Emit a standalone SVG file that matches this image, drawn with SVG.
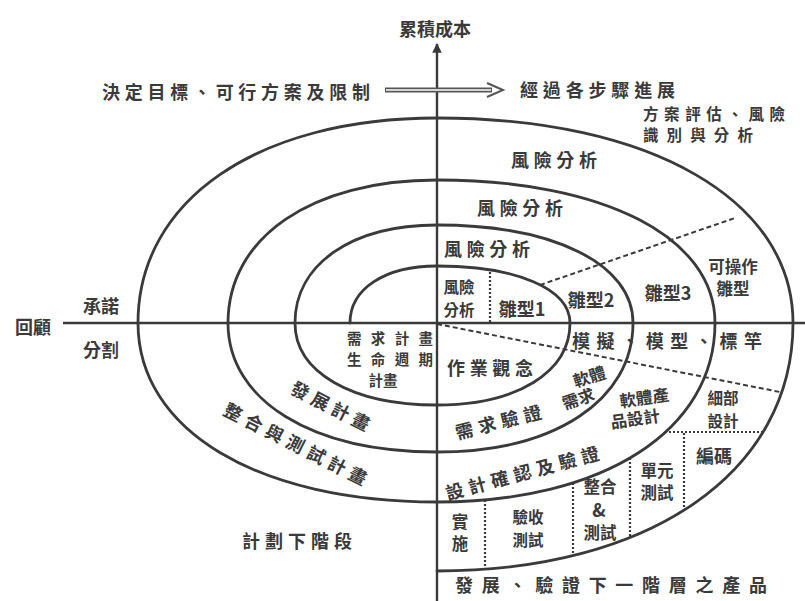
<svg xmlns="http://www.w3.org/2000/svg" width="805" height="601" viewBox="0 0 805 601">
<defs>
<style>
.t{font-family:"Noto Sans CJK TC","Noto Sans CJK SC",sans-serif;font-weight:700;font-size:18px;fill:#3a3a3a;text-anchor:middle;dominant-baseline:central}
.m{font-size:16.5px}
.n{font-size:15.5px}
.q{font-size:14.5px}
.s{text-anchor:start}
.ln{fill:none;stroke:#3a3a3a;stroke-width:2.8;stroke-linecap:round}
.ax{fill:none;stroke:#3a3a3a;stroke-width:2.4}
.da{fill:none;stroke:#3a3a3a;stroke-width:2;stroke-dasharray:5 3}
.do{fill:none;stroke:#3a3a3a;stroke-width:2.2;stroke-dasharray:2 2}
</style>
<marker id="ah" viewBox="0 0 10 10" refX="9" refY="5" markerWidth="4" markerHeight="5" orient="auto" markerUnits="strokeWidth">
<path d="M0,0 L10,5 L0,10 z" fill="#3a3a3a"/>
</marker>
</defs>
<rect width="805" height="601" fill="#fff"/>
<g id="connectors">
<line class="ax" x1="437" y1="601" x2="437" y2="44" marker-end="url(#ah)"/>
<line class="ax" x1="63" y1="323" x2="805" y2="323"/>
<path class="ln" d="M350,323 C350,288.8 384.8,266 437,266 C516.8,266 570,288.8 570,323 C570,372.2 516.8,405 437,405 C351.8,405 295,372.2 295,323 C295,264.2 351.8,225 437,225 C554.6,225 633,264.2 633,323 C633,400.4 554.6,452 437,452 C311.6,452 228,400.4 228,323 C228,237.2 311.6,180 437,180 C603.8,180 715,237.2 715,323 C715,430.4 603.8,502 437,502 C257.6,502 138,430.4 138,323 C138,200 257.6,118 437,118 C650.6,118 793,200 793,323 C793,471.8 650.6,571 437,571"/>
<line class="do" x1="490" y1="272" x2="490" y2="322"/>
<line class="da" x1="540" y1="285" x2="735" y2="218"/>
<line class="da" x1="437" y1="324" x2="780" y2="392"/>
<line class="do" x1="665" y1="432" x2="763" y2="432"/>
<line class="do" x1="684" y1="433" x2="684" y2="509"/>
<line class="do" x1="630" y1="458" x2="630" y2="537"/>
<line class="do" x1="573" y1="483" x2="573" y2="555"/>
<line class="do" x1="485" y1="500" x2="485" y2="569"/>
<g id="flow-arrow">
<line x1="385" y1="90" x2="492" y2="90" stroke="#555" stroke-width="5"/>
<line x1="386" y1="90" x2="491" y2="90" stroke="#fff" stroke-width="1.4"/>
<path d="M487,83 L503,90 L487,97" fill="none" stroke="#555" stroke-width="2"/>
</g>
</g>
<g id="axis-labels">
<text class="t" x="435" y="28">累積成本</text>
<text class="t s" x="102" y="91" textLength="268" lengthAdjust="spacing">決定目標、可行方案及限制</text>
<text class="t s" x="520" y="89" textLength="155" lengthAdjust="spacing">經過各步驟進展</text>
<text class="t" x="33" y="326">回顧</text>
<text class="t" x="101" y="305">承諾</text>
<text class="t" x="101" y="349">分割</text>
</g>
<g id="quadrant-evaluate">
<text class="t s n" x="643" y="113" textLength="142" lengthAdjust="spacing">方案評估、風險</text>
<text class="t s n" x="643" y="134" textLength="110" lengthAdjust="spacing">識別與分析</text>
<text class="t" x="554" y="159" textLength="86" lengthAdjust="spacing">風險分析</text>
<text class="t" x="520" y="207" textLength="86" lengthAdjust="spacing">風險分析</text>
<text class="t" x="487" y="248" textLength="86" lengthAdjust="spacing">風險分析</text>
<text class="t n" x="459" y="286">風險</text>
<text class="t n" x="459" y="309">分析</text>
<text class="t" x="522" y="308">雛型1</text>
<text class="t" x="591" y="299">雛型2</text>
<text class="t" x="668" y="292">雛型3</text>
<text class="t m" x="733" y="266">可操作</text>
<text class="t m" x="733" y="288">雛型</text>
</g>
<g id="quadrant-develop">
<text class="t s" x="572" y="340" textLength="190" lengthAdjust="spacing">模擬、模型、標竿</text>
<text class="t" x="490" y="367" textLength="86" lengthAdjust="spacing">作業觀念</text>
<text class="t m" x="589" y="376" transform="rotate(-18 589 376)">軟體</text>
<text class="t m" x="578" y="398" transform="rotate(-18 578 398)">需求</text>
<text class="t m" x="644" y="397" transform="rotate(-8 644 397)">軟體產</text>
<text class="t m" x="635" y="418" transform="rotate(-8 635 418)">品設計</text>
<text class="t n" x="723" y="397">細部</text>
<text class="t n" x="723" y="420">設計</text>
<text class="t" x="498" y="421" textLength="88" lengthAdjust="spacing" transform="rotate(-14 498 421)">需求驗證</text>
<text class="t" x="522" y="472" textLength="158" lengthAdjust="spacing" transform="rotate(-15 522 472)">設計確認及驗證</text>
<text class="t" x="714" y="455">編碼</text>
<text class="t m" x="657" y="470">單元</text>
<text class="t m" x="657" y="492">測試</text>
<text class="t m" x="600" y="486">整合</text>
<text class="t" x="599" y="509" font-size="12">&amp;</text>
<text class="t m" x="600" y="532">測試</text>
<text class="t n" x="528" y="516">驗收</text>
<text class="t n" x="528" y="539">測試</text>
<text class="t m" x="460" y="521">實</text>
<text class="t m" x="460" y="543">施</text>
<text class="t s" x="455" y="584" textLength="312" lengthAdjust="spacing">發展、驗證下一階層之產品</text>
</g>
<g id="quadrant-plan">
<text class="t q" x="390" y="337" textLength="86" lengthAdjust="spacing">需求計畫</text>
<text class="t q" x="390" y="358" textLength="86" lengthAdjust="spacing">生命週期</text>
<text class="t q" x="383" y="379">計畫</text>
<text class="t" x="331" y="405" textLength="86" lengthAdjust="spacing" transform="rotate(27 331 405)">發展計畫</text>
<text class="t" x="296" y="443" textLength="158" lengthAdjust="spacing" transform="rotate(27 296 443)">整合與測試計畫</text>
<text class="t" x="297" y="540" textLength="110" lengthAdjust="spacing">計劃下階段</text>
</g>
</svg>
